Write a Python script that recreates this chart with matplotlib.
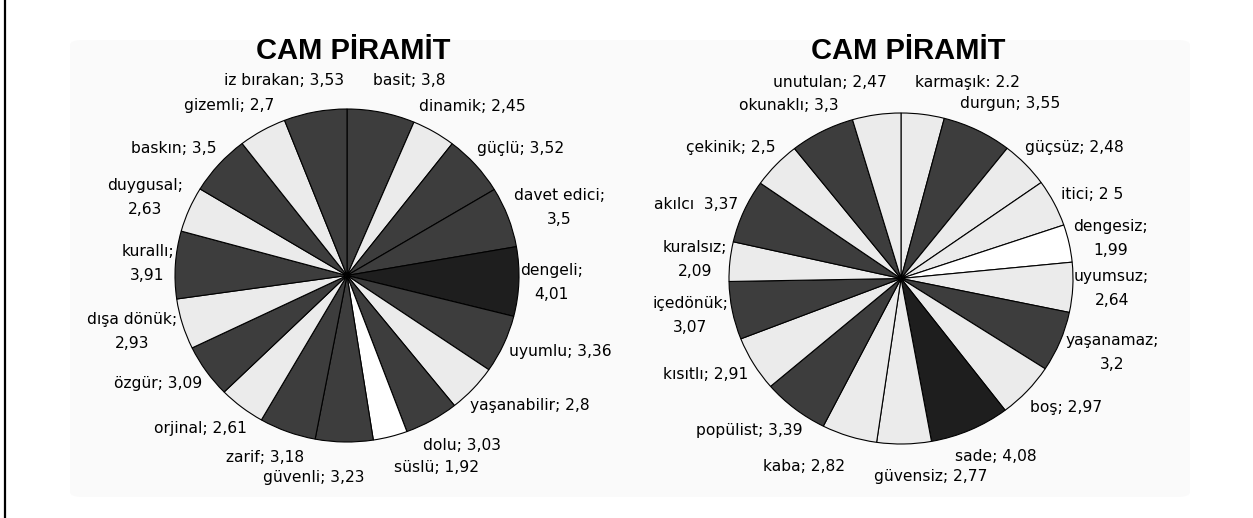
import matplotlib
matplotlib.use("Agg")
import matplotlib.pyplot as plt
from matplotlib.lines import Line2D
from matplotlib.patches import FancyBboxPatch
import numpy as np

# --- data (clockwise from 12 o'clock) ---
left_labels = ["basit; 3,8", "dinamik; 2,45", "güçlü; 3,52", "davet edici;\n3,5", "dengeli;\n4,01",
               "uyumlu; 3,36", "yaşanabilir; 2,8", "dolu; 3,03", "süslü; 1,92", "güvenli; 3,23",
               "zarif; 3,18", "orjinal; 2,61", "özgür; 3,09", "dışa dönük;\n2,93", "kurallı;\n3,91",
               "duygusal;\n2,63", "baskın; 3,5", "gizemli; 2,7", "iz bırakan; 3,53"]
left_values = [3.8, 2.45, 3.52, 3.5, 4.01, 3.36, 2.8, 3.03, 1.92, 3.23,
               3.18, 2.61, 3.09, 2.93, 3.91, 2.63, 3.5, 2.7, 3.53]

right_labels = ["karmaşık: 2.2", "durgun; 3,55", "güçsüz; 2,48", "itici; 2 5", "dengesiz;\n1,99",
                "uyumsuz;\n2,64", "yaşanamaz;\n3,2", "boş; 2,97", "sade; 4,08", "güvensiz; 2,77",
                "kaba; 2,82", "popülist; 3,39", "kısıtlı; 2,91", "içedönük;\n3,07", "kuralsız;\n2,09",
                "akılcı  3,37", "çekinik; 2,5", "okunaklı; 3,3", "unutulan; 2,47"]
right_values = [2.2, 3.55, 2.48, 2.5, 1.99, 2.64, 3.2, 2.97, 4.08, 2.77,
                2.82, 3.39, 2.91, 3.07, 2.09, 3.37, 2.5, 3.3, 2.47]

title = "CAM PİRAMİT"

W, H = 1253, 518
fig = plt.figure(figsize=(W / 100, H / 100), dpi=100)
fig.patch.set_facecolor("white")

# faint panel behind both charts + the left border line
fig.add_artist(FancyBboxPatch((70 / W, 1 - 497 / H), 1120 / W, 457 / H,
                              boxstyle="round,pad=0,rounding_size=0.01",
                              transform=fig.transFigure, facecolor="#fafafa",
                              edgecolor="none", zorder=0))
fig.add_artist(Line2D([5 / W, 5 / W], [0, 1], transform=fig.transFigure, color="black", lw=1.6))


def shade(v):
    if v >= 4:
        return "#1e1e1e"
    if v >= 3:
        return "#3d3d3d"
    if v >= 2:
        return "#ebebeb"
    return "#ffffff"


def draw_pie(rect, values, labels, title_x):
    ax = fig.add_axes(rect)
    wedges, _ = ax.pie(values, colors=[shade(v) for v in values], startangle=90,
                       counterclock=False, radius=1,
                       wedgeprops=dict(edgecolor="black", linewidth=0.8))
    ax.set_aspect("auto")
    ax.set_xlim(-1, 1)
    ax.set_ylim(-1, 1)
    ax.axis("off")
    fig.canvas.draw()
    rnd = fig.canvas.get_renderer()

    texts, boxes, sins = [], [], []
    for w, lab in zip(wedges, labels):
        ang = np.deg2rad((w.theta1 + w.theta2) / 2)
        c, s = np.cos(ang), np.sin(ang)
        R = 1.0 + 0.15 * abs(s)   # labels near top/bottom sit further out
        t = ax.text(c * R, s * R, lab, ha="center", va="center", fontsize=11.2,
                    linespacing=1.75, multialignment="center", clip_on=False)
        bb = t.get_window_extent(rnd)
        x0, y0 = ax.transData.transform((c * R, s * R))
        boxes.append([x0 + c * bb.width / 2, y0 + s * bb.height / 2, bb.width, bb.height])
        texts.append(t)
        sins.append(abs(s))

    # push overlapping labels apart (sideways, with a wider gap, near top/bottom)
    pad = 4
    for _ in range(400):
        moved = False
        for i in range(len(boxes)):
            for j in range(i + 1, len(boxes)):
                a, b = boxes[i], boxes[j]
                polar = sins[i] > 0.94 and sins[j] > 0.94
                ox = (a[2] + b[2]) / 2 + (28 if polar else pad) - abs(a[0] - b[0])
                oy = (a[3] + b[3]) / 2 + pad - abs(a[1] - b[1])
                if ox > 0 and oy > 0:
                    moved = True
                    if ox < oy or polar:
                        sg = 1 if a[0] >= b[0] else -1
                        a[0] += sg * (ox / 2 + 0.5)
                        b[0] -= sg * (ox / 2 + 0.5)
                    else:
                        sg = 1 if a[1] >= b[1] else -1
                        a[1] += sg * (oy / 2 + 0.5)
                        b[1] -= sg * (oy / 2 + 0.5)
        if not moved:
            break

    for t, b in zip(texts, boxes):
        t.set_position(ax.transData.inverted().transform((b[0], b[1])))

    fig.text(title_x / W, 1 - 51 / H, title, ha="center", va="center",
             fontfamily="Liberation Sans", fontweight="bold", fontsize=21)
    return ax


draw_pie([175 / W, 1 - 442 / H, 344 / W, 333 / H], left_values, left_labels, 353)
draw_pie([729 / W, 1 - 444 / H, 344 / W, 331 / H], right_values, right_labels, 908)

fig.savefig("out.png", dpi=100)
